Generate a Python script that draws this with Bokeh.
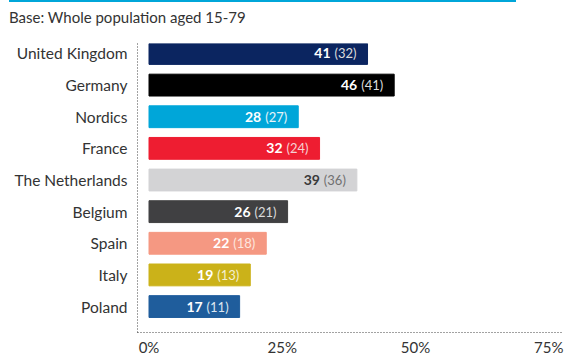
from bokeh.plotting import figure
from bokeh.layouts import column, row, Spacer
from bokeh.models import ColumnDataSource, FixedTicker, Range1d, NumeralTickFormatter, Div
from bokeh.core.properties import value
from bokeh.embed import file_html
from bokeh.resources import INLINE

title_text = "Base: Whole population aged 15-79"
categories = ["United Kingdom", "Germany", "Nordics", "France", "The Netherlands",
              "Belgium", "Spain", "Italy", "Poland"]
current = [41, 46, 28, 32, 39, 26, 22, 19, 17]
previous = [32, 41, 27, 24, 36, 21, 18, 13, 11]
colors = ["#0b2560", "#000000", "#00a6d9", "#ee1d31", "#d3d3d5",
          "#404042", "#f59882", "#cbb219", "#1f5d9c"]
bold_colors = ["white", "white", "white", "white", "#3a3a3a",
               "white", "white", "white", "white"]
paren_colors = ["#dcdcdc", "#dcdcdc", "#e6f4fa", "#f6d0d3", "#707070",
                "#dcdcdc", "#fde6df", "#f4efd0", "#dce6f0"]
x_ticks = [0, 25, 50, 75]

FONT = "Lato"
pos = list(range(len(categories)))
src = ColumnDataSource(dict(
    y=pos, cat=categories, cur=current,
    cur_txt=[str(v) for v in current],
    prev_txt=["(%d)" % v for v in previous],
    color=colors, bc=bold_colors, pc=paren_colors))

# thin blue rule across the top
rule = Div(text="", width=507, height=2, margin=0,
           styles={"background-color": "#00a6d9", "height": "2px", "overflow": "hidden"})
title = Div(text='<span style="font-family: Lato; font-size: 15px; line-height: 15px; '
                 'color: #333333; white-space: nowrap;">%s</span>' % title_text,
            width=400, height=15, margin=0,
            styles={"line-height": "15px", "font-size": "15px", "overflow": "visible"})

p = figure(width=571, height=333, output_backend="svg", toolbar_location=None,
           x_range=Range1d(-2.16, 77.77), y_range=Range1d(8.82, -0.315),
           min_border_left=137, min_border_right=8, min_border_top=18,
           min_border_bottom=25)
p.outline_line_color = None
p.grid.grid_line_color = None
p.background_fill_color = "white"

p.hbar(y="y", left=0, right="cur", height=0.69, color="color", source=src)

p.text(x="cur", y="y", text="prev_txt", text_align="right", text_baseline="middle",
       x_offset=-11, text_color="pc", text_font=value(FONT),
       text_font_size="13px", source=src)
p.text(x="cur", y="y", text="cur_txt", text_align="right", text_baseline="middle",
       x_offset=-37, text_color="bc", text_font=value(FONT), text_font_style="bold",
       text_font_size="14px", source=src)

p.xaxis.ticker = FixedTicker(ticks=x_ticks)
p.xaxis.formatter = NumeralTickFormatter(format="0")
p.xaxis.major_label_overrides = {t: "%d%%" % t for t in x_ticks}
p.yaxis.ticker = FixedTicker(ticks=pos)
p.yaxis.major_label_overrides = {i: c for i, c in enumerate(categories)}

for ax in (p.xaxis[0], p.yaxis[0]):
    ax.axis_line_color = "#444444"
    ax.axis_line_dash = "1 2"
    ax.axis_line_width = 1
    ax.major_tick_line_color = None
    ax.minor_tick_line_color = None
    ax.major_label_text_font = FONT
    ax.major_label_text_color = "#333333"
p.xaxis.major_label_text_font_size = "15px"
p.yaxis.major_label_text_font_size = "15.5px"
p.xaxis.major_label_standoff = -1
p.yaxis.major_label_standoff = 4

layout = column(row(Spacer(width=9, height=2, margin=0), rule, spacing=0),
                Spacer(width=10, height=8, margin=0),
                row(Spacer(width=9, height=15, margin=0), title, spacing=0),
                p, spacing=0)
open("out.html", "w").write(file_html(layout, INLINE))
